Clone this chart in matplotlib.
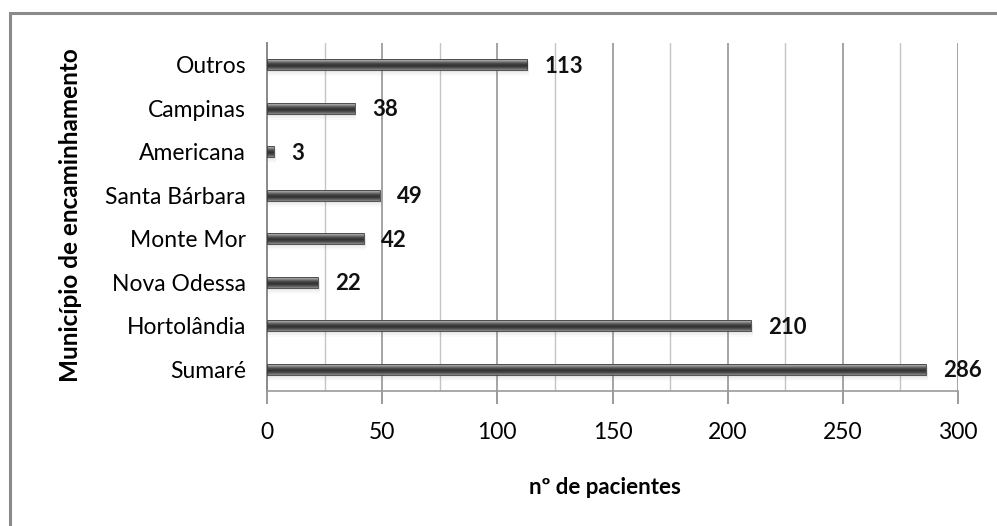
import numpy as np
import matplotlib
matplotlib.use("Agg")
import matplotlib.pyplot as plt
from matplotlib.patches import Rectangle
from matplotlib.colors import LinearSegmentedColormap

plt.rcParams['font.family'] = ['Lato', 'DejaVu Sans']

# Patients per referring municipality (bottom to top)
municipios = ["Sumaré", "Hortolândia", "Nova Odessa", "Monte Mor",
              "Santa Bárbara", "Americana", "Campinas", "Outros"]
pacientes = [286, 210, 22, 42, 49, 3, 38, 113]
x_ticks = [0, 50, 100, 150, 200, 250, 300]

W, H = 997, 526
fig = plt.figure(figsize=(W / 100, H / 100), dpi=100)
fig.patch.set_facecolor("white")

# outer chart frame
fig.patches.append(Rectangle((10 / W, -0.1), 1.2, (H - 13) / H + 0.1,
                             transform=fig.transFigure, fill=False,
                             edgecolor="#8a8a8a", linewidth=2.2))

ax = fig.add_axes([267 / W, 1 - 391 / H, (958 - 267) / W, (391 - 43) / H])
y = np.arange(len(municipios))
bar_h = 0.25
bars = ax.barh(y, pacientes, height=bar_h, color="none", zorder=3)

# cylinder-like shading for each bar
cmap = LinearSegmentedColormap.from_list(
    "cyl", ["#c8c8c8", "#8a8a8a", "#4a4a4a", "#303030", "#505050", "#8a8a8a"])
grad = np.linspace(0, 1, 64).reshape(-1, 1)
for rect in bars:
    x0, y0 = rect.get_x(), rect.get_y()
    w, h = rect.get_width(), rect.get_height()
    # soft shadow under the bar
    for k, a in enumerate([0.10, 0.07, 0.04]):
        ax.add_patch(Rectangle((x0, y0 - 0.045 * (k + 1)), w + 0.8, h,
                               facecolor="#808080", alpha=a,
                               edgecolor="none", zorder=2))
    ax.imshow(grad, cmap=cmap, aspect="auto", origin="upper",
              extent=(x0, x0 + w, y0, y0 + h), zorder=3)
    ax.add_patch(Rectangle((x0, y0), w, h, fill=False,
                           edgecolor="#3c3c3c", linewidth=0.6, zorder=4))

for yi, v in zip(y, pacientes):
    ax.text(v + 7.5, yi - 0.03, str(v), va="center", ha="left",
            fontsize=16, fontweight="bold", color="#111111", zorder=5)

ax.set_xlim(0, 300)
ax.set_ylim(-0.5, len(municipios) - 0.5)
ax.set_xticks(x_ticks)
ax.set_xticks(np.arange(25, 300, 50), minor=True)
ax.set_yticks(y)
ax.set_yticklabels(municipios, fontsize=16.5)
ax.set_xticklabels([str(t) for t in x_ticks], fontsize=16.5)
ax.tick_params(axis="y", length=0, pad=15)
ax.tick_params(axis="x", which="major", length=9, width=1.2,
               color="#8a8a8a", pad=13)
ax.tick_params(axis="x", which="minor", length=0)
ax.grid(axis="x", which="major", color="#8c8c8c", linewidth=1.1, zorder=0)
ax.grid(axis="x", which="minor", color="#c4c4c4", linewidth=1.0, zorder=0)
ax.set_axisbelow(True)
for s in ["top", "right"]:
    ax.spines[s].set_visible(False)
ax.spines["left"].set_color("#8a8a8a")
ax.spines["left"].set_linewidth(1.4)
ax.spines["bottom"].set_color("#9a9a9a")
ax.spines["bottom"].set_linewidth(1.2)

fig.text(605 / W, 1 - 487 / H, "nº de pacientes", ha="center", va="center",
         fontsize=16, fontweight="bold")
fig.text(70 / W, 1 - 215 / H, "Município de encaminhamento", ha="center",
         va="center", rotation=90, fontsize=17.5, fontweight="bold")

fig.savefig("out.png", dpi=100, facecolor="white")
